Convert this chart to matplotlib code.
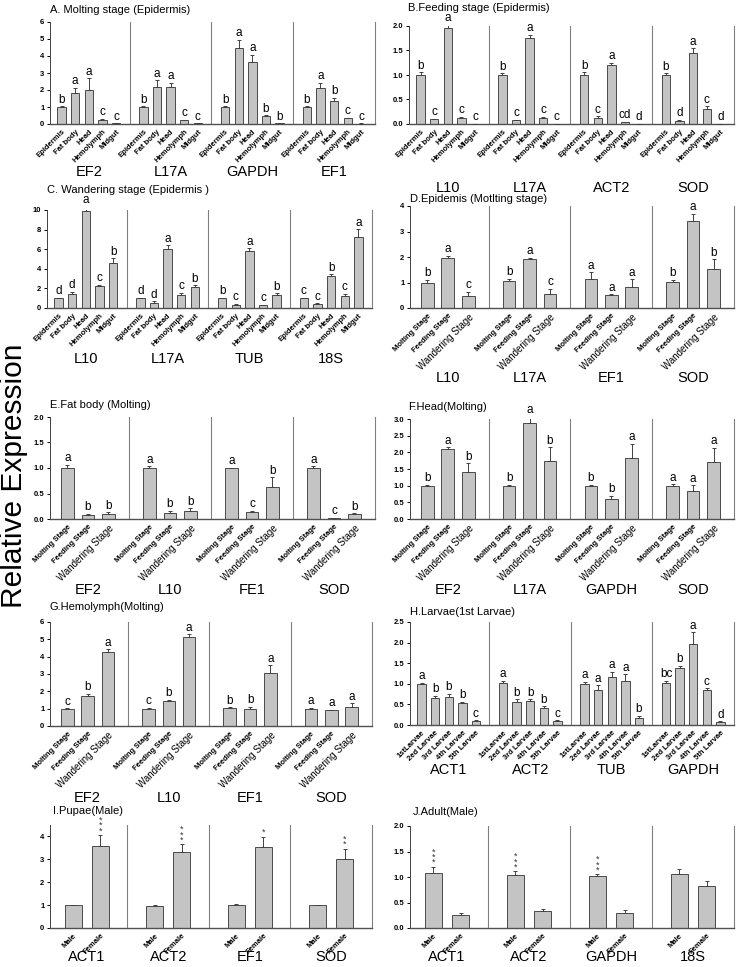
import numpy as np
import matplotlib
matplotlib.use('Agg')
import matplotlib.pyplot as plt
from matplotlib.transforms import blended_transform_factory

plt.rcParams['font.family'] = ['Liberation Sans', 'DejaVu Sans']

# categories on the x axis
tissues = ['Epidermis', 'Fat body', 'Head', 'Hemolymph', 'Midgut']
stages = ['Molting Stage', 'Feeding Stage', 'Wandering Stage']
larvae = ['1stLarvae', '2ed Larvae', '3rd Larvae', '4th Larvae', '5th Larvae']
sexes = ['Male', 'Female']

# A. Molting stage (Epidermis)
a_genes = ['EF2', 'L17A', 'GAPDH', 'EF1']
a_vals = [[1.0, 1.82, 2.0, 0.22, 0.03], [1.0, 2.17, 2.17, 0.22, 0.03],
          [1.0, 4.47, 3.63, 0.45, 0.03], [1.0, 2.13, 1.33, 0.33, 0.02]]
a_err = [[0.05, 0.3, 0.7, 0.1, 0.01], [0.05, 0.4, 0.27, 0.03, 0.01],
         [0.03, 0.5, 0.45, 0.05, 0.01], [0.03, 0.3, 0.2, 0.05, 0.01]]
a_sig = [list('baacc'), list('baacc'), list('baabb'), list('babcc')]

# B. Feeding stage (Epidermis)
b_genes = ['L10', 'L17A', 'ACT2', 'SOD']
b_vals = [[1.0, 0.1, 1.95, 0.12, 0.01], [1.0, 0.08, 1.76, 0.12, 0.01],
          [1.0, 0.13, 1.21, 0.04, 0.01], [1.0, 0.07, 1.45, 0.31, 0.01]]
b_err = [[0.06, 0.01, 0.08, 0.03, 0.0], [0.04, 0.01, 0.06, 0.03, 0.0],
         [0.06, 0.03, 0.04, 0.01, 0.0], [0.04, 0.02, 0.1, 0.05, 0.0]]
b_sig = [list('bcacc'), list('bcacc'), ['b', 'c', 'a', 'cd', 'd'], list('bdacd')]

# C. Wandering stage (Epidermis)
c_genes = ['L10', 'L17A', 'TUB', '18S']
c_vals = [[1.0, 1.38, 9.85, 2.2, 4.6], [1.0, 0.55, 6.05, 1.35, 2.1],
          [1.0, 0.35, 5.85, 0.3, 1.28], [1.0, 0.42, 3.3, 1.25, 7.25]]
c_err = [[0.03, 0.3, 0.55, 0.15, 0.5], [0.03, 0.15, 0.35, 0.2, 0.2],
         [0.03, 0.1, 0.25, 0.05, 0.2], [0.03, 0.05, 0.15, 0.2, 0.8]]
c_sig = [list('ddacb'), list('ddacb'), list('bcacb'), list('ccbca')]

# D. Epidemis (Motlting stage)
d_genes = ['L10', 'L17A', 'EF1', 'SOD']
d_vals = [[1.0, 1.95, 0.48], [1.04, 1.93, 0.55], [1.13, 0.5, 0.82], [1.02, 3.43, 1.53]]
d_err = [[0.1, 0.1, 0.15], [0.1, 0.05, 0.2], [0.27, 0.03, 0.3], [0.08, 0.27, 0.38]]
d_sig = [list('bac'), list('bac'), list('aaa'), list('bab')]

# E. Fat body (Molting)
e_genes = ['EF2', 'L10', 'FE1', 'SOD']
e_vals = [[1.0, 0.08, 0.1], [1.0, 0.12, 0.16], [1.0, 0.13, 0.62], [1.0, 0.02, 0.1]]
e_err = [[0.06, 0.02, 0.03], [0.03, 0.04, 0.05], [0.0, 0.03, 0.2], [0.03, 0.0, 0.01]]
e_sig = [list('abb'), list('abb'), list('acb'), list('acb')]

# F. Head (Molting)
f_genes = ['EF2', 'L17A', 'GAPDH', 'SOD']
f_vals = [[1.0, 2.1, 1.42], [1.0, 2.87, 1.75], [1.0, 0.6, 1.83], [1.0, 0.84, 1.7]]
f_err = [[0.03, 0.06, 0.25], [0.03, 0.2, 0.4], [0.03, 0.1, 0.42], [0.05, 0.18, 0.43]]
f_sig = [list('bab'), list('bab'), list('bba'), list('aaa')]

# G. Hemolymph (Molting)
g_genes = ['EF2', 'L10', 'EF1', 'SOD']
g_vals = [[0.98, 1.73, 4.25], [1.0, 1.43, 5.13], [1.03, 1.0, 3.03], [1.0, 0.9, 1.12]]
g_err = [[0.03, 0.12, 0.17], [0.05, 0.08, 0.15], [0.05, 0.12, 0.47], [0.06, 0.03, 0.18]]
g_sig = [list('cba'), list('cba'), list('bba'), list('aaa')]

# H. Larvae (1st Larvae)
h_genes = ['ACT1', 'ACT2', 'TUB', 'GAPDH']
h_vals = [[1.0, 0.65, 0.68, 0.54, 0.09], [1.01, 0.56, 0.58, 0.41, 0.09],
          [1.0, 0.85, 1.17, 1.07, 0.17], [1.02, 1.39, 1.97, 0.84, 0.07]]
h_err = [[0.02, 0.06, 0.08, 0.03, 0.02], [0.07, 0.06, 0.05, 0.04, 0.02],
         [0.05, 0.12, 0.12, 0.16, 0.06], [0.06, 0.05, 0.28, 0.05, 0.02]]
h_sig = [list('abbbc'), list('abbbc'), list('aaaab'), ['bc', 'b', 'a', 'c', 'd']]

# I. Pupae (Male)
i_genes = ['ACT1', 'ACT2', 'EF1', 'SOD']
i_vals = [[1.0, 3.6], [0.98, 3.3], [1.0, 3.52], [1.0, 3.0]]
i_err = [[0.02, 0.45], [0.02, 0.35], [0.03, 0.45], [0.02, 0.45]]
i_sig = [['', '***'], ['', '***'], ['', '*'], ['', '**']]

# J. Adult (Male)
j_genes = ['ACT1', 'ACT2', 'GAPDH', '18S']
j_vals = [[1.07, 0.25], [1.03, 0.33], [1.01, 0.3], [1.05, 0.82]]
j_err = [[0.13, 0.04], [0.08, 0.04], [0.04, 0.06], [0.11, 0.1]]
j_sig = [['***', ''], ['***', ''], ['***', ''], ['', '']]

W_PX, H_PX = 739, 967
fig = plt.figure(figsize=(W_PX / 100, H_PX / 100), dpi=100)


def box(l, r, top, bot):
    return [l / W_PX, 1 - bot / H_PX, (r - l) / W_PX, (bot - top) / H_PX]


def panel(rect, genes, cats, vals, errs, sig, ymax, yticks, ytfmt,
          title, title_xy, gene_y, stars=False):
    ax = fig.add_axes(box(*rect))
    n = len(cats)
    W = n + 1
    xs, labels = [], []
    for g in range(len(genes)):
        x = g * W + 1 + np.arange(n)
        v = np.array(vals[g])
        e = np.array(errs[g])
        ax.bar(x, v, width=0.62, color='#c4c4c4', edgecolor='#4a4a4a', linewidth=0.7, zorder=2)
        ax.errorbar(x, v, yerr=[np.zeros(n), e], fmt='none', ecolor='#404040',
                    elinewidth=0.7, capsize=1.5, capthick=0.7, zorder=3)
        for xi, vi, ei, s in zip(x, v, e, sig[g]):
            if not s:
                continue
            if stars:
                ax.text(xi, vi + ei, '\n'.join(s), ha='center', va='bottom',
                        fontsize=6.5, linespacing=0.45, color='#333333')
            else:
                ax.text(xi, vi + ei + 0.005 * ymax, s, ha='center', va='bottom', fontsize=8.5)
        if g > 0:
            ax.axvline(g * W, color='#808080', lw=0.8, zorder=1)
        xs.extend(x)
        labels.extend(cats)
        tr = blended_transform_factory(ax.transData, fig.transFigure)
        ax.text(g * W + W / 2, 1 - gene_y / H_PX, genes[g], transform=tr,
                ha='center', va='center', fontsize=10.5)
    ax.set_xlim(0.15, 4 * W)
    ax.set_ylim(0, ymax)
    ax.set_yticks(yticks)
    ax.set_yticklabels([ytfmt.format(t) for t in yticks], fontsize=5.5, fontweight='bold')
    ax.set_xticks(xs)
    ax.set_xticklabels(labels, rotation=45, ha='right', rotation_mode='anchor',
                       fontsize=5.5, fontweight='bold')
    for t in ax.get_xticklabels():
        if t.get_text() == 'Wandering Stage':
            t.set_fontsize(7)
            t.set_fontweight('normal')
    ax.tick_params(axis='x', length=0, pad=3)
    ax.tick_params(axis='y', length=2, width=0.7, pad=2, direction='out')
    ax.spines['top'].set_visible(False)
    ax.spines['right'].set_color('#808080')
    ax.spines['right'].set_linewidth(0.8)
    ax.spines['left'].set_color('#404040')
    ax.spines['left'].set_linewidth(0.7)
    ax.spines['bottom'].set_color('#505050')
    ax.spines['bottom'].set_linewidth(1.0)
    fig.text(title_xy[0] / W_PX, 1 - title_xy[1] / H_PX, title, fontsize=8,
             ha='left', va='center')
    return ax


panel((50, 375, 22, 124), a_genes, tissues, a_vals, a_err, a_sig, 6, range(0, 7), '{:d}',
      'A. Molting stage (Epidermis)', (50, 10), 172)
panel((409, 734, 26, 124), b_genes, tissues, b_vals, b_err, b_sig, 2.0,
      [0, 0.5, 1.0, 1.5, 2.0], '{:.1f}', 'B.Feeding stage (Epidermis)', (408, 8), 188)
panel((47, 372, 210, 308), c_genes, tissues, c_vals, c_err, c_sig, 10, range(0, 11, 2), '{:d}',
      'C. Wandering stage (Epidermis )', (47, 190), 359)
panel((410, 734, 206, 308), d_genes, stages, d_vals, d_err, d_sig, 4, range(0, 5), '{:d}',
      'D.Epidemis (Motlting stage)', (410, 199), 378)
panel((50, 375, 417, 519), e_genes, stages, e_vals, e_err, e_sig, 2.0,
      [0, 0.5, 1.0, 1.5, 2.0], '{:.1f}', 'E.Fat body (Molting)', (50, 405), 590)
panel((410, 734, 419, 519), f_genes, stages, f_vals, f_err, f_sig, 3.0,
      [0, 0.5, 1.0, 1.5, 2.0, 2.5, 3.0], '{:.1f}', 'F.Head(Molting)', (408, 407), 590)
panel((50, 372, 622, 726), g_genes, stages, g_vals, g_err, g_sig, 6, range(0, 7), '{:d}',
      'G.Hemolymph(Molting)', (49, 607), 798)
panel((410, 734, 622, 725), h_genes, larvae, h_vals, h_err, h_sig, 2.5,
      [0, 0.5, 1.0, 1.5, 2.0, 2.5], '{:.1f}', 'H.Larvae(1st Larvae)', (410, 612), 770)
panel((50, 372, 825, 928), i_genes, sexes, i_vals, i_err, i_sig, 4.5, range(0, 5), '{:d}',
      'I.Pupae(Male)', (53, 811), 957, stars=True)
panel((410, 734, 826, 928), j_genes, sexes, j_vals, j_err, j_sig, 2.0,
      [0, 0.5, 1.0, 1.5, 2.0], '{:.1f}', 'J.Adult(Male)', (413, 812), 957, stars=True)

fig.text(14 / W_PX, 1 - 476 / H_PX, 'Relative Expression', rotation=90,
         ha='center', va='center', fontsize=21.5)

fig.savefig('out.png', dpi=100)
